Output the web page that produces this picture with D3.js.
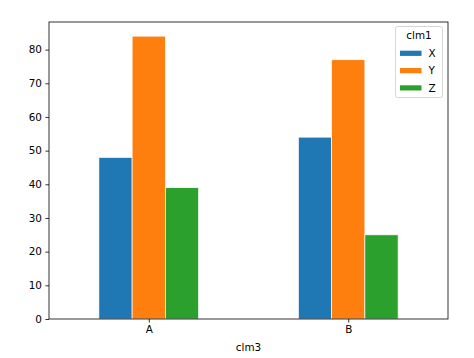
<!DOCTYPE html>
<html><head><meta charset="utf-8">
<script src="https://cdn.jsdelivr.net/npm/d3@7"></script>
<style>body{margin:0;background:#fff}svg{display:block}text{font-family:"DejaVu Sans",sans-serif;fill:#000}</style>
</head><body>
<svg id="c" width="474" height="358"></svg>
<script>
const categories = ["A", "B"];
const seriesNames = ["X", "Y", "Z"];
const valuesX = [48, 54];
const valuesY = [84, 77];
const valuesZ = [39, 25];
const yTicks = [0, 10, 20, 30, 40, 50, 60, 70, 80];
const colors = ["#1f77b4", "#ff7f0e", "#2ca02c"];
const series = [valuesX, valuesY, valuesZ];

const svg = d3.select("#c");
const L = 49, R = 448, T = 22, B = 319;
const fs = 10.4;

const x = d3.scaleLinear().domain([-0.5, 1.5]).range([L, R]);
const y = d3.scaleLinear().domain([0, 88.2]).range([B, T]);
const bw = 0.5 / 3;

const g = svg.append("g");
series.forEach((vals, si) => {
  g.selectAll(null).data(vals).enter().append("rect")
    .attr("x", (d, i) => x(i - 0.25 + si * bw))
    .attr("width", x(bw) - x(0))
    .attr("y", d => y(d))
    .attr("height", d => y(0) - y(d))
    .attr("fill", colors[si])
    .attr("stroke", "#fff").attr("stroke-width", 0.7);
});

const yAxis = d3.axisLeft(y).tickValues(yTicks).tickSize(3.6).tickPadding(3.5);
const ya = svg.append("g").attr("transform", `translate(${L},0)`).call(yAxis);
const xAxis = d3.axisBottom(x).tickValues([0, 1]).tickFormat(i => categories[i]).tickSize(3.6).tickPadding(3.5);
const xa = svg.append("g").attr("transform", `translate(0,${B})`).call(xAxis);
[ya, xa].forEach(a => {
  a.select(".domain").remove();
  a.selectAll("line").attr("stroke", "#000").attr("stroke-width", 0.8);
  a.selectAll("text").style("font-size", fs + "px").attr("fill", "#000");
});
svg.append("rect").attr("x", L).attr("y", T).attr("width", R - L).attr("height", B - T)
  .attr("fill", "none").attr("stroke", "#000").attr("stroke-width", 0.8);

svg.append("text").attr("x", (L + R) / 2).attr("y", 350.5).attr("text-anchor", "middle")
  .style("font-size", fs + "px").text("clm3");

// legend
const lg = svg.append("g");
lg.append("rect").attr("x", 395.5).attr("y", 26.5).attr("width", 47).attr("height", 71)
  .attr("rx", 2).attr("fill", "#fff").attr("fill-opacity", 0.8).attr("stroke", "#ccc").attr("stroke-width", 0.8);
lg.append("text").attr("x", 419).attr("y", 38.8).attr("text-anchor", "middle").style("font-size", fs + "px").text("clm1");
seriesNames.forEach((n, i) => {
  const cy = 53.3 + i * 17.3;
  lg.append("rect").attr("x", 400).attr("y", cy - 2.6).attr("width", 21.5).attr("height", 5.2).attr("fill", colors[i]);
  lg.append("text").attr("x", 428.5).attr("y", cy + 3.7).style("font-size", fs + "px").text(n);
});
</script>
</body></html>
